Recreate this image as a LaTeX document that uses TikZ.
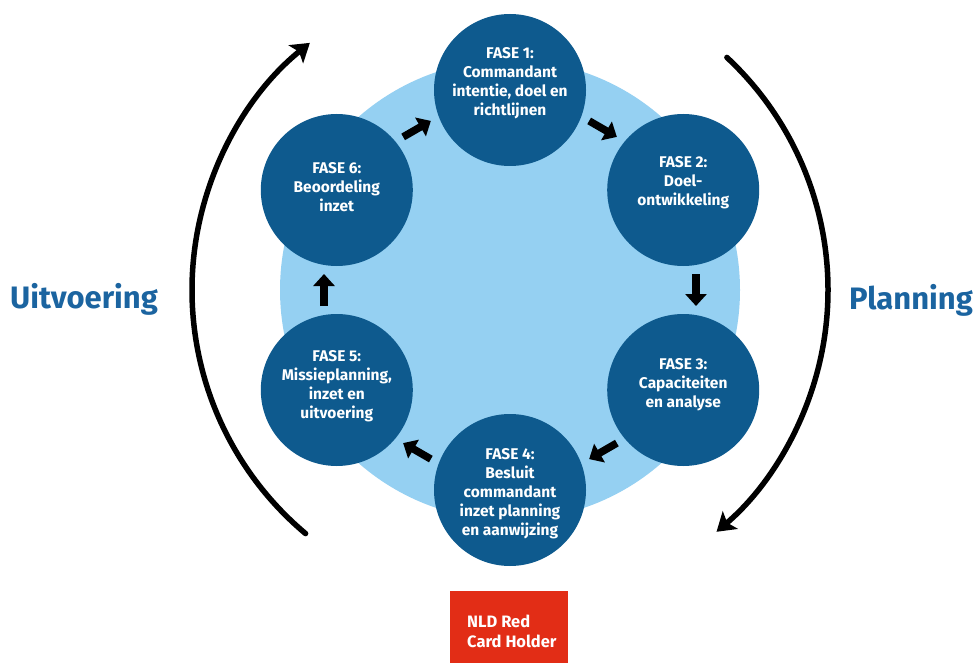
\documentclass[tikz,border=0pt]{standalone}
\usepackage{fontspec}
\setmainfont{Fira Sans}
\usetikzlibrary{arrows.meta,calc}
\definecolor{darkblue}{HTML}{0E5A8E}
\definecolor{lightblue}{HTML}{95D0F2}
\definecolor{labelblue}{HTML}{1B64A0}
\definecolor{cardred}{HTML}{E22D16}
\tikzset{
  fase/.style={circle, fill=darkblue, minimum size=152pt, inner sep=0pt},
  fasetext/.style={text=white, align=center, inner sep=0pt, font=\fontsize{15.5}{19}\selectfont\bfseries},
  smallarrow/.style={line width=7.5pt, -{Triangle[length=12pt,width=21pt]}},
  bigarrow/.style={line width=5.5pt, line cap=round, -{Stealth[length=18pt,width=23pt,inset=4pt]}},
  sidelabel/.style={text=labelblue, font=\fontsize{31}{36}\selectfont\bfseries},
}
\begin{document}
\begin{tikzpicture}[x=1pt,y=-1pt]
\useasboundingbox (0,0) rectangle (974,663);
\coordinate (ctr) at (510,290);
% light blue disk
\fill[lightblue] (ctr) circle[radius=230];
% phase circles
\node[fase] (f1) at ($(ctr)+(-90:200)$) {};
\node[fase] (f2) at ($(ctr)+(-30:200)$) {};
\node[fase] (f3) at ($(ctr)+(30:200)$) {};
\node[fase] (f4) at ($(ctr)+(90:200)$) {};
\node[fase] (f5) at ($(ctr)+(150:200)$) {};
\node[fase] (f6) at ($(ctr)+(210:200)$) {};
\node[fasetext] (t1) at ($(f1)+(0,-7)$) {FASE 1:\\Commandant\\intentie, doel en\\richtlijnen};
\node[fasetext] (t2) at ($(f2)+(0,-7)$) {FASE 2:\\Doel-\\ontwikkeling};
\node[fasetext] (t3) at ($(f3)+(0,-5)$) {FASE 3:\\Capaciteiten\\en analyse};
\node[fasetext] (t4) at ($(f4)+(0,4)$) {FASE 4:\\Besluit\\commandant\\inzet planning\\en aanwijzing};
\node[fasetext] (t5) at ($(f5)+(0,-4)$) {FASE 5:\\Missieplanning,\\inzet en\\uitvoering};
\node[fasetext] (t6) at ($(f6)+(0,-3)$) {FASE 6:\\Beoordeling\\inzet};
% small arrows between phases
\foreach \p/\n in {-120/a,-60/b,0/c,60/d,120/e,180/f}{
  \coordinate (s\n) at ($(ctr)+(\p:186)+(\p-90:16)$);
  \coordinate (e\n) at ($(ctr)+(\p:186)+(\p+90:16)$);
  \draw[smallarrow] (s\n) -- (e\n);
}
% big side arcs
\coordinate (la) at ($(ctr)+(-230:318)$);
\draw[bigarrow] (la) arc[start angle=-230, end angle=-129, radius=318];
\coordinate (ra) at ($(ctr)+(-47:318)$);
\draw[bigarrow] (ra) arc[start angle=-47, end angle=49.5, radius=318];
% side labels
\node[sidelabel] (uit) at (84,299) {Uitvoering};
\node[sidelabel] (plan) at (911,300) {Planning};
% red card
\fill[cardred] (450,591) rectangle (568,663);
\node[text=white, align=left, anchor=west, inner sep=0pt,
  font=\fontsize{16.5}{20}\selectfont\bfseries] (card) at (467,631) {NLD Red\\Card Holder};
\end{tikzpicture}
\end{document}
